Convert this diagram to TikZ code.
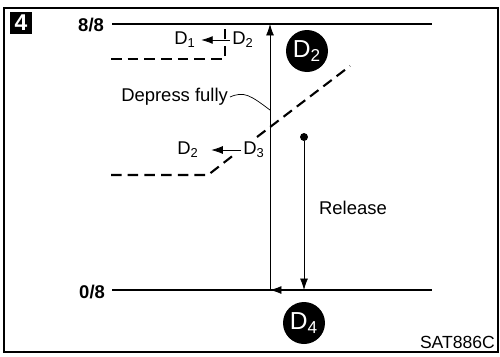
\documentclass[tikz,border=0pt]{standalone}
\usepackage{fontspec}
\setmainfont{Liberation Sans}
\usetikzlibrary{arrows.meta}

\begin{document}
\begin{tikzpicture}[x=0.02cm,y=-0.02cm,
    tip/.style={-{Latex[length=6.5pt,width=4.5pt]}},
    dashline/.style={line width=1.2pt,dash pattern=on 6pt off 3.5pt},
    disc/.style={circle,fill=black,minimum size=0.84cm,inner sep=0pt,text=white,font=\fontsize{14}{14}\selectfont},
    lbl/.style={font=\fontsize{10.5}{12}\selectfont,inner sep=1pt}]
    \useasboundingbox (0,0) rectangle (500,356);
    \draw[line width=1.1pt] (4,8) rectangle (498,352);
    \node[fill=black,text=white,minimum size=0.44cm,inner sep=0pt,font=\fontsize{13}{13}\selectfont\bfseries] (step4) at (21,23) {4};
    % levels
    \node[lbl,anchor=east,font=\fontsize{10.5}{12}\selectfont\bfseries] (full) at (106,25) {8/8};
    \node[lbl,anchor=east,font=\fontsize{10.5}{12}\selectfont\bfseries] (zero) at (107,292) {0/8};
    \coordinate (T1) at (112,24);
    \coordinate (T2) at (432,24);
    \coordinate (B1) at (112,290);
    \coordinate (B2) at (432,290);
    \draw[line width=0.9pt] (T1)--(T2);
    \draw[line width=0.9pt] (B1)--(B2);
    % dashed curves
    \coordinate (a1) at (111,59);
    \coordinate (a2) at (225,59);
    \coordinate (a3) at (225,25);
    \draw[dashline] (a1)--(a2)--(a3);
    \coordinate (c1) at (111,175);
    \coordinate (c2) at (208,175);
    \coordinate (g1) at (235,154);
    \coordinate (g2) at (257,137);
    \coordinate (c3) at (350,66);
    \draw[dashline] (c1)--(c2)--(g1);
    \draw[dashline] (g2)--(c3);
    % shift arrows
    \node[lbl] (D2a) at (243,40) {D\textsubscript{2}};
    \node[lbl] (D1a) at (185,40) {D\textsubscript{1}};
    \draw[tip,shorten >=2pt] (D2a)--(D1a);
    \node[lbl] (D3b) at (254,150) {D\textsubscript{3}};
    \node[lbl] (D2b) at (188,150) {D\textsubscript{2}};
    \draw[tip,shorten >=6pt] (D3b)--(D2b);
    % pedal travel
    \coordinate (Bot) at (270,290);
    \coordinate (Top) at (270,24);
    \draw[tip] (Bot)--(Top);
    \node[circle,fill=black,inner sep=1.6pt] (dot) at (304,137) {};
    \coordinate (Rel) at (304,290);
    \draw[tip] (dot)--(Rel);
    \draw[tip] (Rel)--(Bot);
    \node[lbl] (release) at (353,208) {Release};
    \node[lbl,anchor=east] (depress) at (230,97) {Depress fully};
    \coordinate (M) at (270,110);
    \draw (depress.east) .. controls (244,91) and (250,95) .. (M);
    % ranges
    \node[disc] (rangeD2) at (307,51) {D\textsubscript{2}};
    \node[disc] (rangeD4) at (304,323) {D\textsubscript{4}};
    \node[anchor=south east,inner sep=1pt,font=\fontsize{10}{12}\selectfont] (code) at (497,351) {SAT886C};
\end{tikzpicture}
\end{document}
